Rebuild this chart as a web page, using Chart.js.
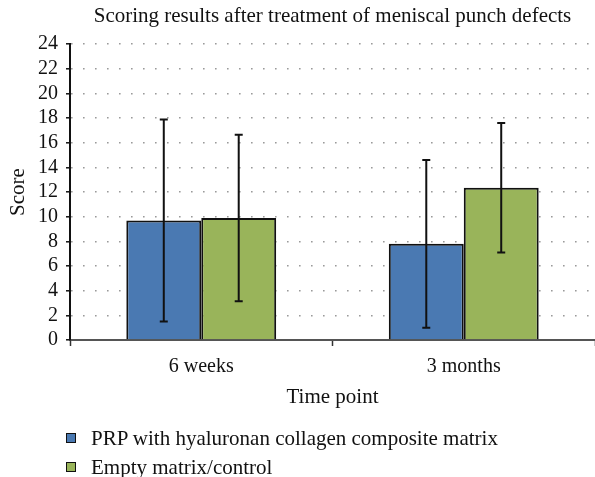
<!DOCTYPE html>
<html>
<head>
<meta charset="utf-8">
<script src="https://cdn.jsdelivr.net/npm/chart.js@4.4.1/dist/chart.umd.min.js"></script>
<style>
  body { margin: 0; background: #fff; overflow: hidden; }
  #wrap { position: relative; width: 595px; height: 477px; }
  canvas { display: block; }
  #legend { position: absolute; left: 66px; top: 424px; font-family: "Liberation Serif", serif; font-size: 21px; color: #111; }
  .item { position: relative; height: 29px; line-height: 29px; padding-left: 25px; white-space: nowrap; }
  .box { position: absolute; left: 0; top: 9px; width: 8px; height: 8px; border: 1.5px solid #111; }
</style>
</head>
<body>
<div id="wrap">
  <canvas id="chart" width="595" height="477"></canvas>
  <div id="legend"></div>
</div>
<script>
const categories = ["6 weeks", "3 months"];
const seriesNames = ["PRP with hyaluronan collagen composite matrix", "Empty matrix/control"];
const prpValues = [9.7, 7.8];
const prpErrors = [8.2, 6.8];
const controlValues = [9.9, 12.35];
const controlErrors = [6.75, 5.25];
const yTicks = [0, 2, 4, 6, 8, 10, 12, 14, 16, 18, 20, 22, 24];
const colors = ["#4a79b2", "#99b45a"];

const serif = "'Liberation Serif', serif";
Chart.defaults.font.family = serif;
Chart.defaults.color = "#111";

// error bars drawn through the y scale
const errorBars = {
    id: 'errorBars',
    afterDatasetsDraw(chart) {
        const ctx = chart.ctx;
        const yScale = chart.scales.y;
        chart.data.datasets.forEach(function(ds, i) {
            const meta = chart.getDatasetMeta(i);
            meta.data.forEach(function(bar, j) {
                const v = ds.data[j], e = ds.errors[j];
                const top = yScale.getPixelForValue(v + e);
                const bottom = yScale.getPixelForValue(v - e);
                ctx.save();
                ctx.strokeStyle = "#111";
                ctx.lineWidth = 2;
                ctx.beginPath();
                ctx.moveTo(bar.x, top); ctx.lineTo(bar.x, bottom);
                ctx.moveTo(bar.x - 4, top); ctx.lineTo(bar.x + 4, top);
                ctx.moveTo(bar.x - 4, bottom); ctx.lineTo(bar.x + 4, bottom);
                ctx.stroke();
                ctx.restore();
            });
        });
    }
};

const chart = new Chart(document.getElementById('chart'), {
    type: 'bar',
    data: {
        labels: categories,
        datasets: [
            { label: seriesNames[0], data: prpValues, errors: prpErrors, backgroundColor: colors[0], borderColor: "#111", borderWidth: 2 },
            { label: seriesNames[1], data: controlValues, errors: controlErrors, backgroundColor: colors[1], borderColor: "#111", borderWidth: 2 }
        ]
    },
    options: {
        responsive: false,
        animation: false,
        layout: { padding: { left: 0, right: 0, top: 0, bottom: 67 } },
        datasets: { bar: { categoryPercentage: 0.571, barPercentage: 1 } },
        plugins: {
            legend: { display: false },
            tooltip: { enabled: false },
            title: {
                display: true,
                fullSize: false,
                text: "Scoring results after treatment of meniscal punch defects",
                font: { size: 21, weight: 'normal' },
                color: "#111",
                padding: { top: 4, bottom: 15 }
            }
        },
        scales: {
            x: {
                offset: true,
                afterFit: function(scale) { scale.height = 70; },
                grid: { display: true, drawOnChartArea: false, drawTicks: true, offset: true, tickLength: 6, tickColor: "#333", tickWidth: 1.5 },
                border: { display: true, color: "#555", width: 2 },
                ticks: { font: { size: 20 }, color: "#111", padding: 9 },
                title: { display: true, text: "Time point", font: { size: 21 }, color: "#111", padding: { top: 0, bottom: 0 } }
            },
            y: {
                min: 0,
                max: 24,
                afterFit: function(scale) { scale.width = 70; },
                afterBuildTicks: function(scale) { scale.ticks = yTicks.map(function(v) { return { value: v }; }); },
                grid: {
                    color: function(c) { return c.tick && c.tick.value === 0 ? 'rgba(0,0,0,0)' : '#9a9a9a'; },
                    lineWidth: 1.6,
                    tickLength: 4,
                    tickColor: "#111",
                    tickWidth: 1.5,
                    tickBorderDash: []
                },
                border: { display: true, color: "#111", width: 2, dash: [1.6, 10.4] },
                ticks: { font: { size: 20 }, color: "#111", padding: 8, autoSkip: false },
                title: { display: true, text: "Score", font: { size: 21 }, color: "#111", padding: { top: 6, bottom: 0 } }
            }
        }
    },
    plugins: [errorBars]
});

// legend below the axis, one series per line
const legendEl = document.getElementById('legend');
chart.data.datasets.forEach(function(ds) {
    const item = document.createElement('div');
    item.className = 'item';
    const box = document.createElement('span');
    box.className = 'box';
    box.style.background = ds.backgroundColor;
    item.appendChild(box);
    item.appendChild(document.createTextNode(ds.label));
    legendEl.appendChild(item);
});
</script>
</body>
</html>
